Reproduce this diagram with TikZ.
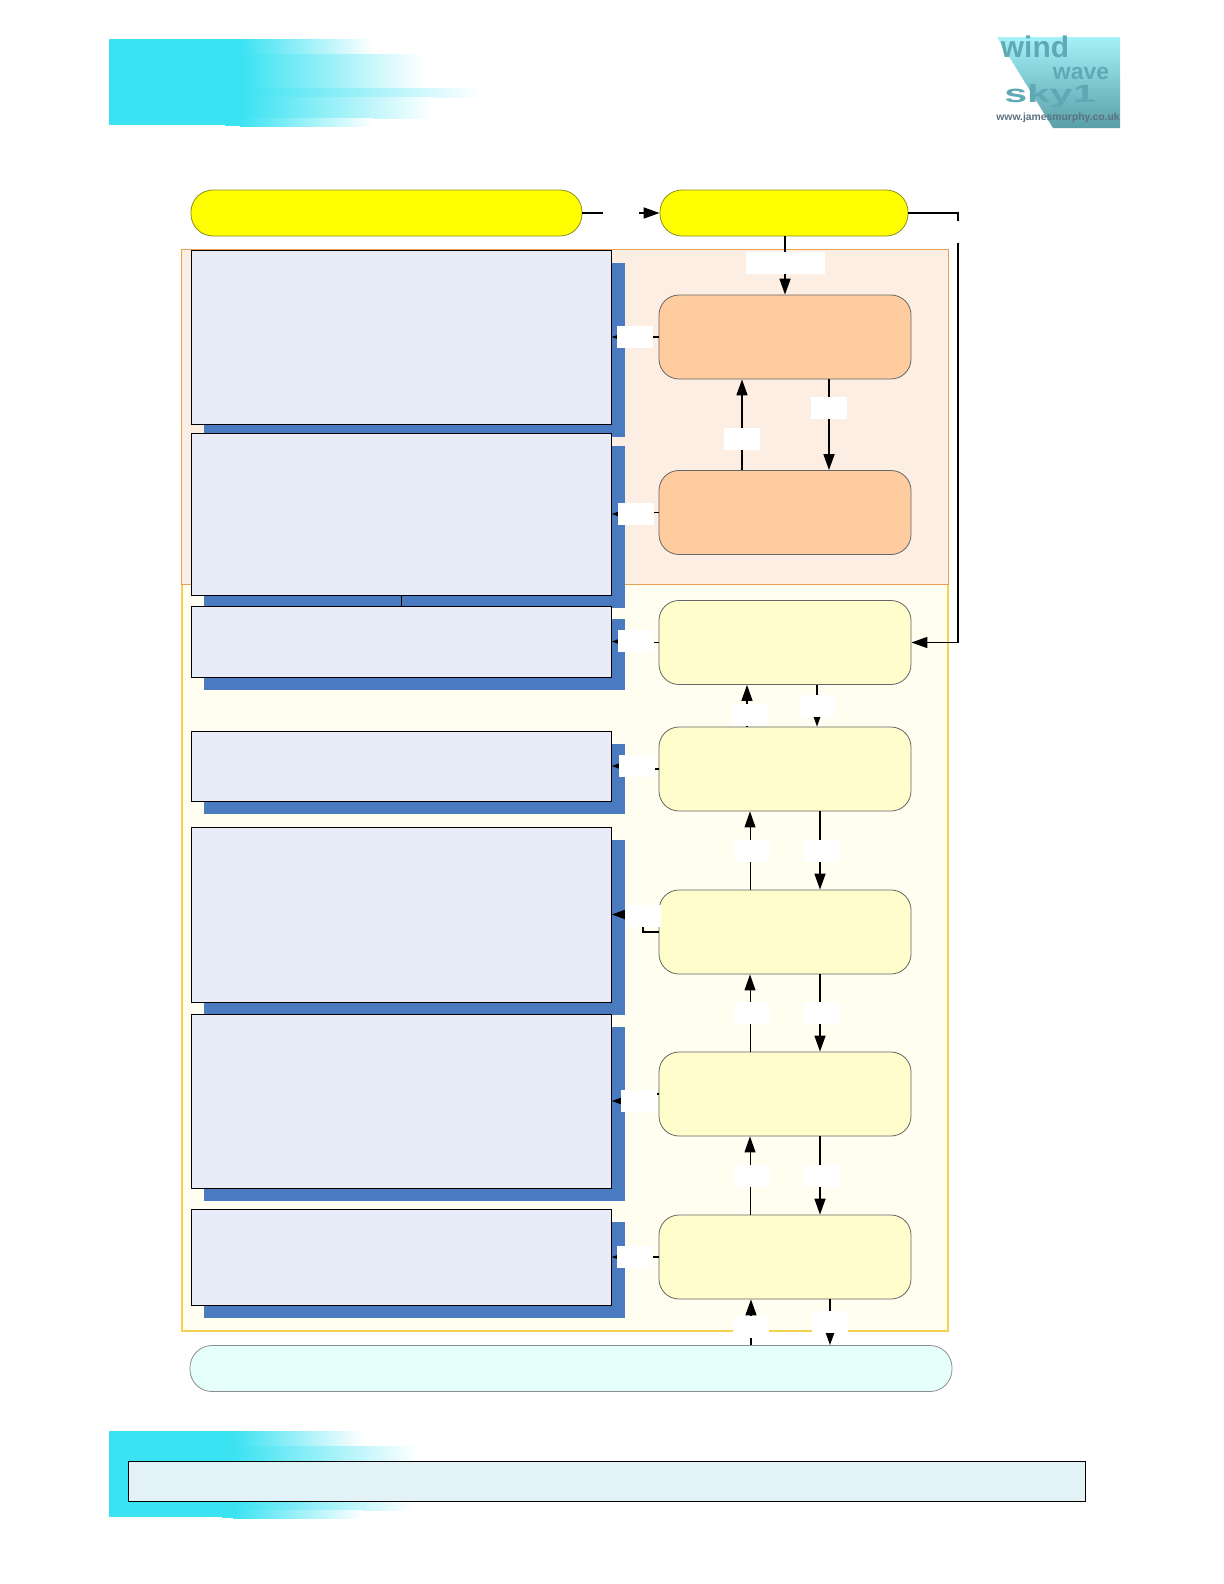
\documentclass[tikz,border=0pt]{standalone}
\usepackage{xcolor}
\usepackage{fontspec}
\setsansfont{Liberation Sans}
\usetikzlibrary{arrows.meta}
\definecolor{bandcyan}{HTML}{3AE2F2}
\definecolor{logotop}{HTML}{A4F1F8}
\definecolor{logobot}{HTML}{5A9FA8}
\definecolor{logotext}{HTML}{5FA9B5}
\definecolor{urltext}{HTML}{5A7080}
\definecolor{orangepanel}{HTML}{FCEEE3}
\definecolor{orangeedge}{HTML}{E8A058}
\definecolor{yellowpanel}{HTML}{FFFEF0}
\definecolor{yellowedge}{HTML}{F6D24E}
\definecolor{lavfill}{HTML}{E8ECF8}
\definecolor{shadowblue}{HTML}{4A7ABF}
\definecolor{orangebox}{HTML}{FFCC9F}
\definecolor{creambox}{HTML}{FFFDCC}
\definecolor{mintpill}{HTML}{E5FFFB}
\definecolor{barfill}{HTML}{E3F2F7}
\definecolor{pillyellow}{HTML}{FFFF00}
\definecolor{pilledge}{HTML}{8C8C20}
\tikzset{
  lavbox/.style={draw=black,line width=0.5bp,fill=lavfill,inner sep=0pt,minimum width=209.7bp},
  flowbox/.style={draw=black!60,line width=0.4bp,rounded corners=10bp,inner sep=0pt,
    minimum width=126bp,minimum height=42bp},
  pill/.style={draw=black!45,line width=0.4bp,rounded corners=11bp,inner sep=0pt,minimum height=23bp},
  conn/.style={->,line width=0.8bp},
  gap/.style={fill=white,inner sep=0pt,minimum width=18bp,minimum height=11bp}
}
\begin{document}
\begin{tikzpicture}[x=0.5bp,y=-0.5bp,>={Triangle[length=8bp,width=5.5bp]}]
\useasboundingbox (0,0) rectangle (1224,1584);
% --- top and bottom bands ---
\fill[bandcyan] (109,39) rectangle (240,125);
\fill[bandcyan] (225,125) rectangle (240,126);
\foreach \ya/\yb/\xe in {39/54/373,54/88/423,88/97/480,97/118/433,118/126/373}
  \shade[left color=bandcyan,right color=white] (240,\ya) rectangle (\xe,\yb);
\fill[bandcyan] (109,1431) rectangle (233,1517);
\fill[bandcyan] (222,1517) rectangle (233,1518);
\foreach \ya/\yb/\xe in {1431/1446/363,1446/1502/417,1502/1510/413,1510/1518/363}
  \shade[left color=bandcyan,right color=white] (233,\ya) rectangle (\xe,\yb);
\node[draw=black,line width=0.5bp,fill=barfill,inner sep=0pt,minimum width=478bp,minimum height=20bp]
  (bar) at (607,1481) {};
% --- logo ---
\shade[top color=logotop,bottom color=logobot] (997,37) -- (1120,37) -- (1120,128) -- (1053,128) -- cycle;
\node[font=\sffamily\bfseries\fontsize{15}{15}\selectfont,text=logotext,inner sep=0pt] (wind) at (1035,47) {wind};
\node[font=\sffamily\bfseries\fontsize{11.5}{12}\selectfont,text=logotext,inner sep=0pt] (wave) at (1081,73) {wave};
\node[font=\sffamily\bfseries\fontsize{12.5}{13}\selectfont,text=logotext,xscale=1.65,inner sep=0pt] (sky) at (1050,96) {sky1};
\node[font=\sffamily\bfseries\fontsize{5.2}{6}\selectfont,text=urltext,inner sep=0pt] (url) at (1058,118) {www.jamesmurphy.co.uk};
% --- panels ---
\node[draw=yellowedge,line width=0.6bp,fill=yellowpanel,inner sep=0pt,minimum width=383bp,minimum height=373.5bp]
  (lowpanel) at (565,957.5) {};
\node[draw=orangeedge,line width=0.5bp,fill=orangepanel,inner sep=0pt,minimum width=383bp,minimum height=167.5bp]
  (uppanel) at (565,416.5) {};
% --- left boxes with their shadows ---
\foreach \n/\ya/\yb in {1/250/424,2/433/595,3/606/677,4/731/801,5/827/1002,6/1014/1188,7/1209/1305}{
  \fill[shadowblue] (204,\ya+13) rectangle (625,\yb+13);
  \node[lavbox,minimum height={(\yb-\ya)*0.5bp}] (b\n) at (401.5,{(\ya+\yb)/2}) {};
}
\draw[line width=0.5bp] (b2) -- (b3);
% --- right boxes ---
\foreach \n/\ya/\yb/\col in {1/295/379/orangebox,2/470/555/orangebox,3/600/685/creambox,
    4/727/811/creambox,5/890/974/creambox,6/1052/1136/creambox,7/1215/1299/creambox}
  \node[flowbox,fill=\col] (r\n) at (785,{(\ya+\yb)/2}) {};
% --- pills ---
\node[pill,fill=pillyellow,draw=pilledge,minimum width=195.5bp] (p1) at (386.5,213) {};
\node[pill,fill=pillyellow,draw=pilledge,minimum width=124bp] (p2) at (784,213) {};
\node[pill,fill=mintpill,minimum width=381bp] (p3) at (571,1368.5) {};
% --- connectors ---
\coordinate (bend) at (958,213);
\coordinate (kink) at (643,914.5);
\draw[conn] (p1) -- (p2);
\draw[conn] (p2.east) -- (bend) |- (r3.east);
\draw[conn] (p2.south -| 785,0) -- (r1.north);
\foreach \n in {1,2,3,4,6,7}
  \draw[conn] (r\n.west) -- ++(-23,0) |- (b\n.east);
\draw[conn] (r5.west) -| (kink) -- (b5.east);
% up and down between neighbours
\foreach \hi/\lo/\xu/\xd/\wu in {r1/r2/742/829/0.8bp,r3/r4/747/817/0.8bp,r4/r5/750/820/0.5bp,
    r5/r6/750/820/0.5bp,r6/r7/750/820/0.5bp,r7/p3/751/830/0.8bp}{
  \draw[conn,line width=\wu] (\lo.north -| \xu,0) -- (\hi.south -| \xu,0);
  \draw[conn] (\hi.south -| \xd,0) -- (\lo.north -| \xd,0);
}
% --- white patches over the lines ---
\node[gap] (g0) at (621,213) {};
\node[gap] (g1) at (958,232) {};
\node[gap,minimum width=39.5bp] (g2) at (785.5,263) {};
\foreach \n/\x/\y in {3/635/337,4/636/514,5/636/641,6/637/766,7/643/916,8/639/1100.5,9/635/1257,
    10/742/439,11/828.5/408,12/748.5/715,13/816.5/706,14/751.5/851,15/820.5/851,
    16/751.5/1013,17/820.5/1013,18/751.5/1176,19/820.5/1176,20/751/1327,21/830/1322}
  \node[gap] (g\n) at (\x,\y) {};
\end{tikzpicture}
\end{document}
